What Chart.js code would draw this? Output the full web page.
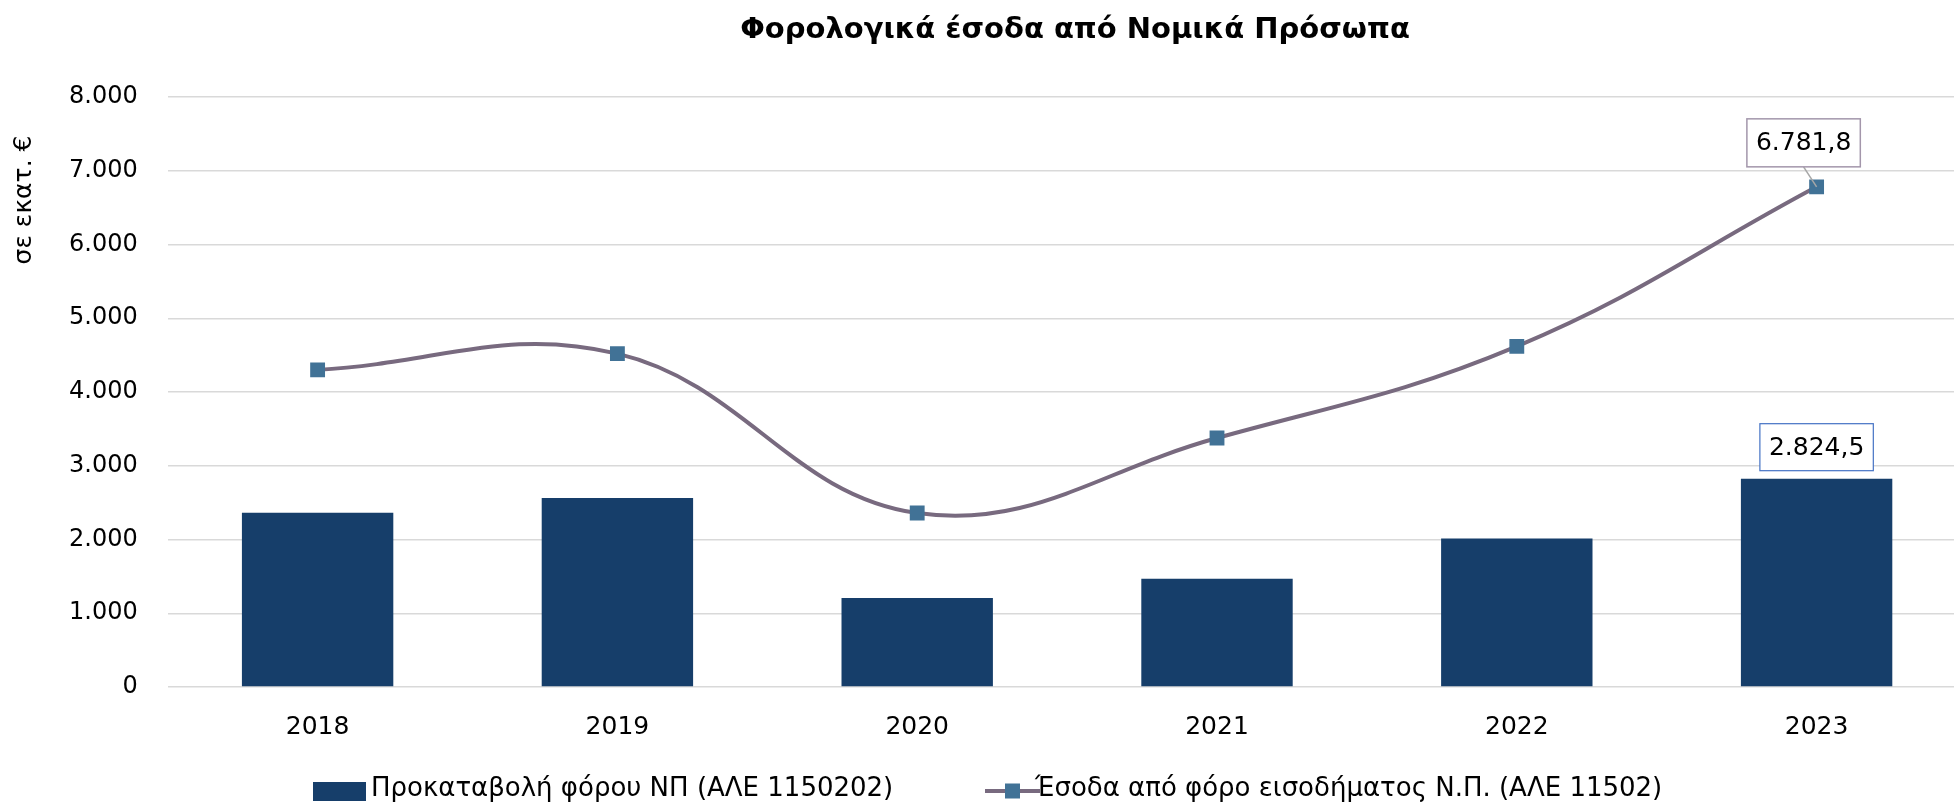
<!DOCTYPE html>
<html>
<head>
<meta charset="utf-8">
<script src="https://cdn.jsdelivr.net/npm/chart.js@4.4.1/dist/chart.umd.min.js"></script>
<style>
html, body { margin: 0; padding: 0; overflow: hidden; background: #ffffff; width: 1954px; height: 805px; }
canvas { display: block; }
</style>
</head>
<body>
<canvas id="chart" width="1977" height="805"></canvas>
<script>
// ---- data ----
const categories = ['2018', '2019', '2020', '2021', '2022', '2023'];
const prepaymentValues = [2363, 2562, 1206, 1469, 2012, 2824.5];
const incomeTaxValues = [4300, 4520, 2359, 3376, 4619, 6781.8];
const yTickValues = [0, 1000, 2000, 3000, 4000, 5000, 6000, 7000, 8000];
const seriesNames = ['Προκαταβολή φόρου ΝΠ (ΑΛΕ 1150202)', 'Έσοδα από φόρο εισοδήματος Ν.Π. (ΑΛΕ 11502)'];
const chartTitle = 'Φορολογικά έσοδα από Νομικά Πρόσωπα';
const yAxisTitle = 'σε εκατ. €';

// ---- styles ----
const BAR_COLOR = '#163E6A';
const LINE_COLOR = '#786A7F';
const MARKER_COLOR = '#417296';
const GRID_COLOR = '#D9D9D9';
const FONT = '"DejaVu Sans", "Noto Sans", sans-serif';

function fmt(v, decimals) {
  const neg = v < 0;
  let s = Math.abs(v).toFixed(decimals);
  let [ip, dp] = s.split('.');
  ip = ip.replace(/\B(?=(\d{3})+(?!\d))/g, '.');
  return (neg ? '-' : '') + ip + (dp ? ',' + dp : '');
}

const lastIdx = categories.length - 1;

const decorPlugin = {
  id: 'decor',
  afterDatasetsDraw(chart) {
    const ctx = chart.ctx;
    ctx.save();
    ctx.font = '25px ' + FONT;
    ctx.textAlign = 'center';
    ctx.textBaseline = 'middle';

    // line label (last point)
    const lp = chart.getDatasetMeta(0).data[lastIdx];
    const lt = fmt(incomeTaxValues[lastIdx], 1);
    const lw = ctx.measureText(lt).width + 18, lh = 48;
    const lbx = lp.x - 13, lby = lp.y - 44;
    ctx.strokeStyle = '#A6A6A6';
    ctx.lineWidth = 1.5;
    ctx.beginPath();
    ctx.moveTo(lbx, lby + lh / 2);
    ctx.lineTo(lp.x, lp.y);
    ctx.stroke();
    ctx.fillStyle = '#ffffff';
    ctx.fillRect(lbx - lw / 2, lby - lh / 2, lw, lh);
    ctx.strokeStyle = '#A396AB';
    ctx.lineWidth = 1.5;
    ctx.strokeRect(lbx - lw / 2, lby - lh / 2, lw, lh);
    ctx.fillStyle = '#000000';
    ctx.fillText(lt, lbx, lby + 1);

    // bar label (last bar)
    const bp = chart.getDatasetMeta(1).data[lastIdx];
    const bt = fmt(prepaymentValues[lastIdx], 1);
    const bw = ctx.measureText(bt).width + 18, bh = 47;
    const bbx = bp.x, bby = bp.y - 31.5;
    ctx.fillStyle = '#ffffff';
    ctx.fillRect(bbx - bw / 2, bby - bh / 2, bw, bh);
    ctx.strokeStyle = '#4472C4';
    ctx.lineWidth = 1.2;
    ctx.strokeRect(bbx - bw / 2, bby - bh / 2, bw, bh);
    ctx.fillStyle = '#000000';
    ctx.fillText(bt, bbx, bby + 1);
    ctx.restore();
  },
  afterDraw(chart) {
    const ctx = chart.ctx;
    ctx.save();
    // title
    ctx.fillStyle = '#000000';
    ctx.font = 'bold 29px ' + FONT;
    ctx.textAlign = 'center';
    ctx.textBaseline = 'middle';
    ctx.fillText(chartTitle, 1075, 30);

    // y axis title
    ctx.save();
    ctx.translate(24, 200);
    ctx.rotate(-Math.PI / 2);
    ctx.font = '25px ' + FONT;
    ctx.fillText(yAxisTitle, 0, 0);
    ctx.restore();

    // legend
    ctx.font = '26px ' + FONT;
    ctx.textAlign = 'left';
    ctx.fillStyle = BAR_COLOR;
    ctx.fillRect(313, 782, 53, 19);
    ctx.fillStyle = '#000000';
    ctx.fillText(seriesNames[0], 371, 789);

    ctx.strokeStyle = LINE_COLOR;
    ctx.lineWidth = 4;
    ctx.beginPath();
    ctx.moveTo(985, 791);
    ctx.lineTo(1040, 791);
    ctx.stroke();
    ctx.fillStyle = MARKER_COLOR;
    ctx.fillRect(1005, 783.5, 15, 15);
    ctx.fillStyle = '#000000';
    ctx.fillText(seriesNames[1], 1035, 789);
    ctx.restore();
  }
};

new Chart(document.getElementById('chart'), {
  data: {
    labels: categories,
    datasets: [
      {
        type: 'line',
        label: seriesNames[1],
        data: incomeTaxValues,
        borderColor: LINE_COLOR,
        borderWidth: 4,
        tension: 0.4,
        pointStyle: 'rect',
        pointRadius: 10.5,
        pointBackgroundColor: MARKER_COLOR,
        pointBorderColor: MARKER_COLOR,
        pointBorderWidth: 0,
        fill: false,
        order: 0
      },
      {
        type: 'bar',
        label: seriesNames[0],
        data: prepaymentValues,
        backgroundColor: BAR_COLOR,
        borderWidth: 0,
        categoryPercentage: 1.0,
        barPercentage: 0.505,
        order: 1
      }
    ]
  },
  options: {
    responsive: false,
    animation: false,
    devicePixelRatio: 1,
    layout: { padding: { top: 97, left: 39, right: 0, bottom: 38 } },
    plugins: {
      legend: { display: false },
      title: { display: false },
      tooltip: { enabled: false }
    },
    scales: {
      x: {
        offset: true,
        grid: { display: false, drawTicks: false },
        border: { display: false },
        ticks: { color: '#000000', font: { family: FONT, size: 25 }, padding: 25 }
      },
      y: {
        min: 0,
        max: 8000,
        afterBuildTicks(scale) { scale.ticks = yTickValues.map(v => ({ value: v })); },
        grid: { color: GRID_COLOR, lineWidth: 1.5, drawTicks: false },
        border: { display: false },
        ticks: {
          color: '#000000',
          font: { family: FONT, size: 24 },
          padding: 30,
          callback: (v) => fmt(v, 0)
        }
      }
    }
  },
  plugins: [decorPlugin]
});
</script>
</body>
</html>
